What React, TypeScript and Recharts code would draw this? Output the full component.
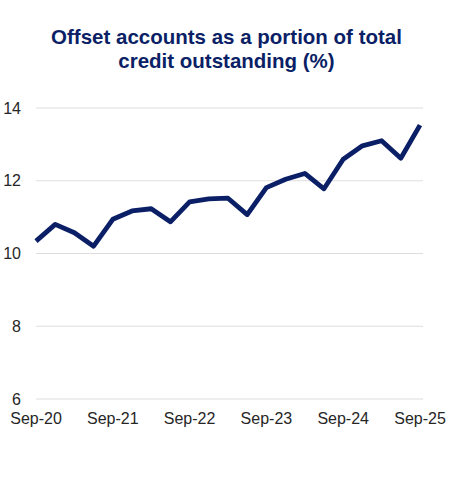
import { CartesianGrid, Line, LineChart, XAxis, YAxis } from 'recharts';

// Quarterly observations, Sep-20 to Sep-25
const quarters = [
  'Sep-20', 'Dec-20', 'Mar-21', 'Jun-21',
  'Sep-21', 'Dec-21', 'Mar-22', 'Jun-22',
  'Sep-22', 'Dec-22', 'Mar-23', 'Jun-23',
  'Sep-23', 'Dec-23', 'Mar-24', 'Jun-24',
  'Sep-24', 'Dec-24', 'Mar-25', 'Jun-25',
  'Sep-25',
];

const offsetShare = [
  10.34, 10.8, 10.57, 10.2,
  10.94, 11.17, 11.23, 10.87,
  11.42, 11.5, 11.52, 11.07,
  11.81, 12.04, 12.2, 11.78,
  12.59, 12.96, 13.1, 12.62,
  13.53,
];

const xTicks = ['Sep-20', 'Sep-21', 'Sep-22', 'Sep-23', 'Sep-24', 'Sep-25'];
const yTicks = [6, 8, 10, 12, 14];

const NAVY = '#0b1f66';
const FONT = 'Arial, "Liberation Sans", sans-serif';

const data = quarters.map((q, i) => ({ quarter: q, value: offsetShare[i] }));

export default function App() {
  return (
    <div
      style={{
        position: 'absolute',
        left: 0,
        top: 0,
        width: 453,
        height: 482,
        background: '#fff',
        fontFamily: FONT,
      }}
    >
      <div
        style={{
          position: 'absolute',
          top: 25,
          left: 0,
          width: 453,
          textAlign: 'center',
          fontSize: 20.5,
          lineHeight: '24px',
          fontWeight: 700,
          color: NAVY,
          zIndex: 1,
        }}
      >
        Offset accounts as a portion of total
        <br />
        credit outstanding (%)
      </div>
      <LineChart
        width={453}
        height={482}
        data={data}
        margin={{ top: 108, right: 30, bottom: 53, left: 0 }}
        style={{ position: 'absolute', left: 0, top: 0 }}
      >
        <CartesianGrid vertical={false} stroke="#dedede" strokeWidth={1.2} />
        <XAxis
          dataKey="quarter"
          ticks={xTicks}
          interval={0}
          axisLine={false}
          tickLine={false}
          tickSize={0}
          tickMargin={14}
          height={30}
          padding={{ left: 0, right: 3 }}
          tick={{ fill: '#262626', fontSize: 16, fontFamily: FONT }}
        />
        <YAxis
          domain={[6, 14]}
          ticks={yTicks}
          axisLine={false}
          tickLine={false}
          tickSize={0}
          tickMargin={15}
          width={36}
          tick={{ fill: '#262626', fontSize: 16, fontFamily: FONT }}
        />
        <Line
          type="linear"
          dataKey="value"
          stroke={NAVY}
          strokeWidth={4.8}
          dot={false}
          strokeLinejoin="round"
          isAnimationActive={false}
        />
      </LineChart>
    </div>
  );
}
